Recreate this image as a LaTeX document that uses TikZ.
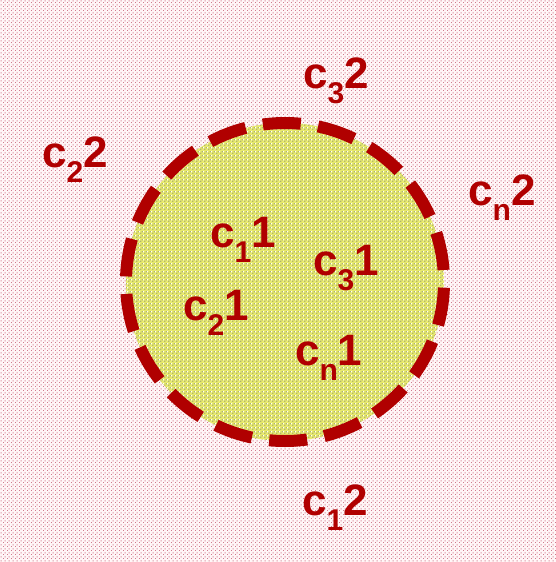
\documentclass[tikz,border=0pt]{standalone}
\usepackage{fontspec}
\setmainfont{Liberation Sans}
\usetikzlibrary{patterns.meta}
\definecolor{pinkbase}{HTML}{FFF5F6}
\definecolor{pinkdot}{HTML}{D07A8C}
\definecolor{yelbase}{HTML}{E8EA6E}
\definecolor{yeldot}{HTML}{B0B66C}
\definecolor{darkred}{HTML}{B00000}
\tikzdeclarepattern{
  name=pinkdots, type=colored,
  bounding box={(0,0) and (4pt,4pt)},
  tile size={(4pt,4pt)},
  code={
    \fill[pinkdot] (0,0) rectangle (1.2pt,1.2pt);
    \fill[pinkdot] (2pt,2pt) rectangle (3.2pt,3.2pt);
  }
}
\tikzdeclarepattern{
  name=yeldots, type=colored,
  bounding box={(0,0) and (4pt,4pt)},
  tile size={(4pt,4pt)},
  code={
    \fill[yeldot] (0,0) rectangle (1.6pt,1.6pt);
    \fill[yeldot] (2pt,2pt) rectangle (3.6pt,3.6pt);
  }
}
\newcommand{\lbl}[2]{\textbf{c\raisebox{-15pt}{\fontsize{30}{30}\selectfont #1}#2}}
\tikzset{
  label text/.style={anchor=base west, inner sep=0pt, text=darkred,
    font=\fontsize{44}{48}\selectfont},
  ring/.style={draw=darkred, line width=12pt,
    dash pattern=on 38pt off 17.5pt, dash phase=43.5pt}
}
\begin{document}
\begin{tikzpicture}[x=1pt,y=-1pt]
\useasboundingbox (0,0) rectangle (556,562);
\fill[pinkbase] (0,0) rectangle (556,562);
\fill[pattern=pinkdots] (0,0) rectangle (556,562);
\coordinate (ctr) at (285,282);
\fill[yelbase] (ctr) circle[radius=159pt];
\fill[pattern=yeldots] (ctr) circle[radius=159pt];
\draw[ring] (ctr) circle[radius=159pt];
\node[label text] (c32) at (303,88) {\lbl{3}{2}};
\node[label text] (c22) at (42,167) {\lbl{2}{2}};
\node[label text] (cn2) at (468,205) {\lbl{n}{2}};
\node[label text] (c11) at (210,247) {\lbl{1}{1}};
\node[label text] (c31) at (313,275) {\lbl{3}{1}};
\node[label text] (c21) at (183,320) {\lbl{2}{1}};
\node[label text] (cn1) at (295,365) {\lbl{n}{1}};
\node[label text] (c12) at (302,515) {\lbl{1}{2}};
\end{tikzpicture}
\end{document}
